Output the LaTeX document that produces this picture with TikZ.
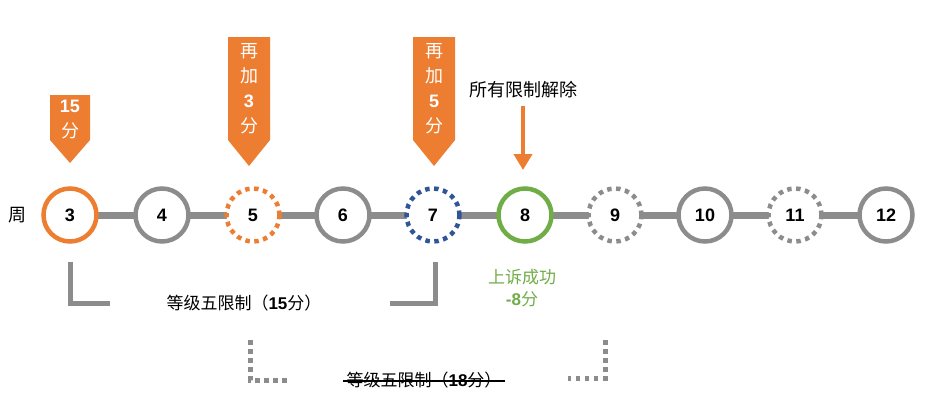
\documentclass[tikz,border=0pt]{standalone}
\usetikzlibrary{arrows.meta}
\usepackage{fontspec}
\setmainfont{Noto Sans CJK SC}
\newfontfamily\numf{Liberation Sans}
\definecolor{org}{HTML}{ED7D31}
\definecolor{gry}{HTML}{8C8C8C}
\definecolor{grn}{HTML}{70AD47}
\definecolor{blu}{HTML}{2F5597}
\begin{document}
\begin{tikzpicture}[x=1pt,y=-1pt,
  wk/.style={circle,minimum size=53pt,inner sep=0pt,line width=4.5pt,draw=gry,fill=white,font=\numf\bfseries\fontsize{18}{18}\selectfont},
  dot/.style={dash pattern=on 4.5pt off 4.5pt},
  link/.style={gry,line width=7pt},
  brk/.style={gry,line width=5pt},
  ban/.style={fill=org,draw=none},
  bt/.style={white,font=\fontsize{18}{25}\selectfont,align=center}]
\useasboundingbox (0,0) rectangle (929,400);
\node[font=\fontsize{18}{18}\selectfont] (zhou) at (18,215) {周};
\foreach \n/\x in {3/70,4/162,5/253,6/343,7/433,8/525,9/615,10/705,11/795,12/886}
  \coordinate (c\n) at (\x,215);
\foreach \a/\b in {3/4,4/5,5/6,6/7,7/8,8/9,9/10,10/11,11/12}
  \draw[link] (c\a) -- (c\b);
\node[wk,draw=org] (w3) at (c3) {3};
\node[wk] (w4) at (c4) {4};
\node[wk,draw=org,dot] (w5) at (c5) {5};
\node[wk] (w6) at (c6) {6};
\node[wk,draw=blu,dot] (w7) at (c7) {7};
\node[wk,draw=grn] (w8) at (c8) {8};
\node[wk,dot] (w9) at (c9) {9};
\node[wk] (w10) at (c10) {10};
\node[wk,dot] (w11) at (c11) {11};
\node[wk] (w12) at (c12) {12};
% banners
\fill[ban] (50,95) -- (90,95) -- (90,140) -- (70,163) -- (50,140) -- cycle;
\node[bt] (b1) at (70,120) {{\numf\bfseries 15}\\分};
\fill[ban] (228,37) -- (270,37) -- (270,140) -- (249,166) -- (228,140) -- cycle;
\node[bt] (b2) at (249,89) {再\\加\\{\numf\bfseries 3}\\分};
\fill[ban] (413,37) -- (455,37) -- (455,140) -- (434,166) -- (413,140) -- cycle;
\node[bt] (b3) at (434,89) {再\\加\\{\numf\bfseries 5}\\分};
\node[font=\fontsize{18}{18}\selectfont] (lift) at (523,90) {所有限制解除};
\coordinate (ae) at (523,170);
\draw[org,line width=4.5pt,-{Triangle[length=16pt,width=18pt]}] (523,106) -- (ae);
% brackets
\draw[brk] (70,262) -- (70,303) -- (110,303);
\draw[brk] (435,262) -- (435,303) -- (390,303);
\node[font=\fontsize{17}{17}\selectfont] (t15) at (244,303) {等级五限制（{\numf\bfseries 15}分）};
\node[grn,font=\fontsize{17}{22}\selectfont,align=center] (app) at (522,288) {上诉成功\\{\numf\bfseries -8}分};
\draw[brk,dot] (250,340) -- (250,380) -- (290,380);
\draw[brk,dot] (605,340) -- (605,378) -- (568,378);
\node[font=\fontsize{17}{17}\selectfont] (t18) at (424,380) {等级五限制（{\numf\bfseries 18}分）};
\draw[line width=1.2pt] ([yshift=-1pt]t18.west) -- ([yshift=-1pt]t18.east);
\end{tikzpicture}
\end{document}
